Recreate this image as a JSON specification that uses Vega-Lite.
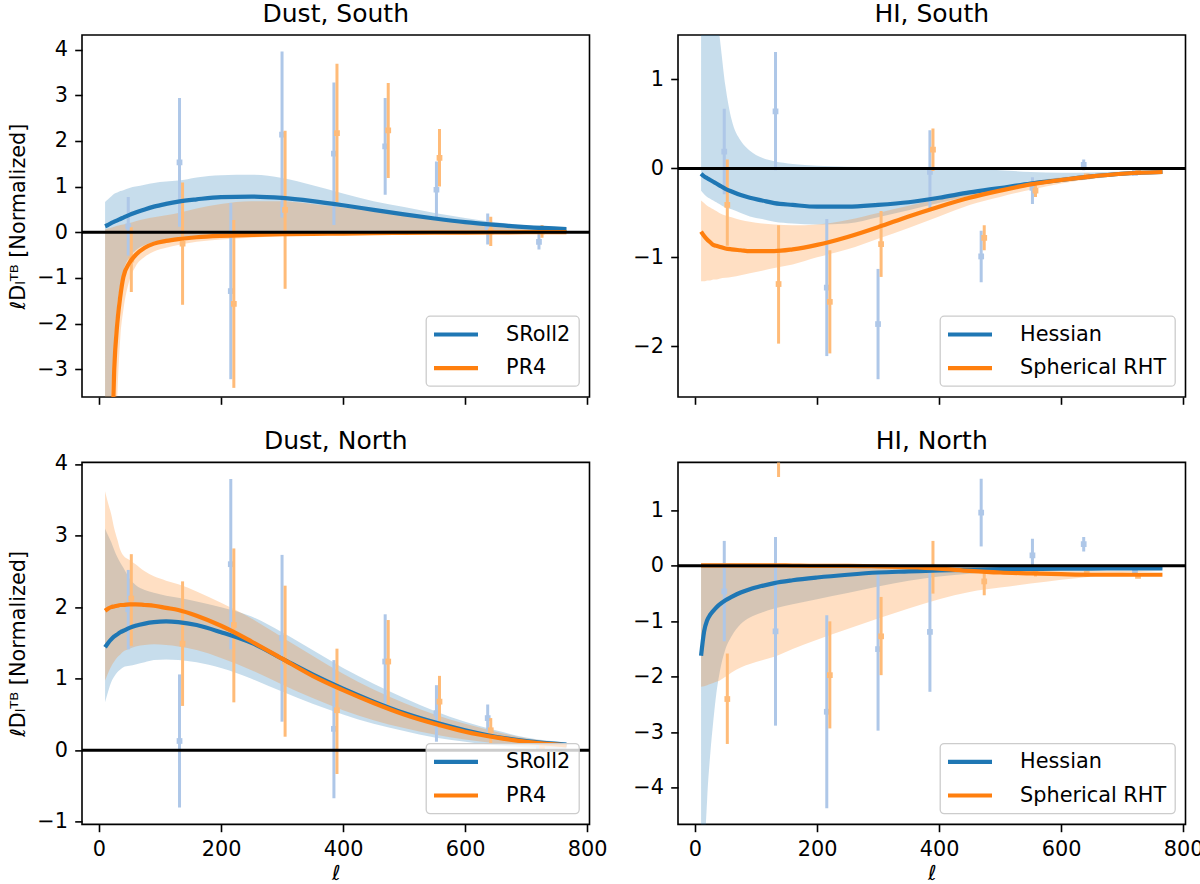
{
  "$schema": "https://vega.github.io/schema/vega-lite/v6.json",
  "background": "white",
  "padding": {"left": 6, "top": 1, "right": 5, "bottom": 5},
  "bounds": "flush",
  "columns": 2,
  "spacing": {"row": 65.4, "column": 88},
  "datasets": {
    "dust_south_fit": [
      {"l":10,"s":"SRoll2","mid":0.13,"lo":-12,"hi":0.66},{"l":15,"s":"SRoll2","mid":0.16,"lo":-7,"hi":0.72},{"l":20,"s":"SRoll2","mid":0.2,"lo":-3.8,"hi":0.78},{"l":25,"s":"SRoll2","mid":0.23,"lo":-2.4,"hi":0.84},{"l":30,"s":"SRoll2","mid":0.26,"lo":-1.6,"hi":0.87},{"l":35,"s":"SRoll2","mid":0.29,"lo":-1.15,"hi":0.9},{"l":40,"s":"SRoll2","mid":0.32,"lo":-0.85,"hi":0.92},{"l":50,"s":"SRoll2","mid":0.38,"lo":-0.55,"hi":0.97},{"l":60,"s":"SRoll2","mid":0.43,"lo":-0.4,"hi":1.0},{"l":75,"s":"SRoll2","mid":0.5,"lo":-0.28,"hi":1.04},{"l":90,"s":"SRoll2","mid":0.56,"lo":-0.21,"hi":1.08},{"l":110,"s":"SRoll2","mid":0.62,"lo":-0.16,"hi":1.11},{"l":130,"s":"SRoll2","mid":0.67,"lo":-0.13,"hi":1.13},{"l":160,"s":"SRoll2","mid":0.72,"lo":-0.09,"hi":1.2},{"l":200,"s":"SRoll2","mid":0.77,"lo":-0.06,"hi":1.25},{"l":250,"s":"SRoll2","mid":0.78,"lo":-0.04,"hi":1.26},{"l":300,"s":"SRoll2","mid":0.75,"lo":-0.03,"hi":1.19},{"l":350,"s":"SRoll2","mid":0.68,"lo":-0.02,"hi":1.03},{"l":400,"s":"SRoll2","mid":0.59,"lo":-0.02,"hi":0.85},{"l":450,"s":"SRoll2","mid":0.49,"lo":-0.01,"hi":0.68},{"l":500,"s":"SRoll2","mid":0.39,"lo":-0.01,"hi":0.55},{"l":550,"s":"SRoll2","mid":0.3,"lo":0,"hi":0.42},{"l":600,"s":"SRoll2","mid":0.22,"lo":0,"hi":0.31},{"l":650,"s":"SRoll2","mid":0.16,"lo":0,"hi":0.22},{"l":700,"s":"SRoll2","mid":0.11,"lo":0,"hi":0.15},{"l":766,"s":"SRoll2","mid":0.07,"lo":0,"hi":0.09},
      {"l":10,"s":"PR4","mid":-30,"lo":-60,"hi":0.06},{"l":15,"s":"PR4","mid":-9,"lo":-20,"hi":0.08},{"l":20,"s":"PR4","mid":-5.3,"lo":-9,"hi":0.1},{"l":25,"s":"PR4","mid":-3.0,"lo":-5.5,"hi":0.12},{"l":30,"s":"PR4","mid":-2.0,"lo":-3.6,"hi":0.14},{"l":35,"s":"PR4","mid":-1.4,"lo":-2.3,"hi":0.16},{"l":40,"s":"PR4","mid":-0.98,"lo":-1.7,"hi":0.17},{"l":50,"s":"PR4","mid":-0.67,"lo":-1.05,"hi":0.2},{"l":60,"s":"PR4","mid":-0.5,"lo":-0.75,"hi":0.24},{"l":75,"s":"PR4","mid":-0.34,"lo":-0.54,"hi":0.29},{"l":90,"s":"PR4","mid":-0.25,"lo":-0.42,"hi":0.33},{"l":110,"s":"PR4","mid":-0.19,"lo":-0.34,"hi":0.37},{"l":130,"s":"PR4","mid":-0.15,"lo":-0.28,"hi":0.42},{"l":160,"s":"PR4","mid":-0.11,"lo":-0.21,"hi":0.52},{"l":200,"s":"PR4","mid":-0.08,"lo":-0.16,"hi":0.62},{"l":250,"s":"PR4","mid":-0.06,"lo":-0.12,"hi":0.68},{"l":300,"s":"PR4","mid":-0.045,"lo":-0.09,"hi":0.68},{"l":350,"s":"PR4","mid":-0.035,"lo":-0.07,"hi":0.62},{"l":400,"s":"PR4","mid":-0.03,"lo":-0.06,"hi":0.54},{"l":450,"s":"PR4","mid":-0.02,"lo":-0.05,"hi":0.47},{"l":500,"s":"PR4","mid":-0.015,"lo":-0.04,"hi":0.39},{"l":550,"s":"PR4","mid":-0.01,"lo":-0.03,"hi":0.31},{"l":600,"s":"PR4","mid":-0.01,"lo":-0.02,"hi":0.24},{"l":650,"s":"PR4","mid":-0.005,"lo":-0.02,"hi":0.17},{"l":700,"s":"PR4","mid":0,"lo":-0.01,"hi":0.12},{"l":766,"s":"PR4","mid":0,"lo":-0.01,"hi":0.08}
    ],
    "dust_south_pts": [
      {"l":48,"s":"SRoll2","value":0.13,"lo":-0.51,"hi":0.77},{"l":132,"s":"SRoll2","value":1.53,"lo":0.12,"hi":2.94},{"l":216,"s":"SRoll2","value":-1.29,"lo":-3.22,"hi":0.64},{"l":300,"s":"SRoll2","value":2.14,"lo":0.32,"hi":3.96},{"l":385,"s":"SRoll2","value":1.72,"lo":0.16,"hi":3.28},{"l":469,"s":"SRoll2","value":1.88,"lo":0.82,"hi":2.94},{"l":553,"s":"SRoll2","value":0.93,"lo":0.31,"hi":1.55},{"l":637,"s":"SRoll2","value":0.07,"lo":-0.27,"hi":0.41},{"l":721,"s":"SRoll2","value":-0.21,"lo":-0.38,"hi":-0.04},
      {"l":53,"s":"PR4","value":-0.6,"lo":-1.31,"hi":0.11},{"l":137,"s":"PR4","value":-0.25,"lo":-1.59,"hi":1.09},{"l":221,"s":"PR4","value":-1.57,"lo":-3.41,"hi":0.27},{"l":305,"s":"PR4","value":0.49,"lo":-1.24,"hi":2.22},{"l":390,"s":"PR4","value":2.17,"lo":0.65,"hi":3.69},{"l":474,"s":"PR4","value":2.23,"lo":1.19,"hi":3.27},{"l":558,"s":"PR4","value":1.63,"lo":1.0,"hi":2.26},{"l":642,"s":"PR4","value":0.02,"lo":-0.3,"hi":0.34},{"l":726,"s":"PR4","value":0.02,"lo":-0.12,"hi":0.16}
    ],
    "hi_south_fit": [
      {"l":10,"s":"Hessian","mid":-0.06,"lo":-0.25,"hi":6},{"l":15,"s":"Hessian","mid":-0.09,"lo":-0.29,"hi":4.5},{"l":20,"s":"Hessian","mid":-0.11,"lo":-0.32,"hi":3.4},{"l":25,"s":"Hessian","mid":-0.13,"lo":-0.34,"hi":2.6},{"l":30,"s":"Hessian","mid":-0.15,"lo":-0.36,"hi":2.1},{"l":35,"s":"Hessian","mid":-0.17,"lo":-0.38,"hi":1.75},{"l":40,"s":"Hessian","mid":-0.19,"lo":-0.4,"hi":1.5},{"l":50,"s":"Hessian","mid":-0.23,"lo":-0.44,"hi":0.92},{"l":60,"s":"Hessian","mid":-0.26,"lo":-0.46,"hi":0.55},{"l":75,"s":"Hessian","mid":-0.3,"lo":-0.5,"hi":0.31},{"l":90,"s":"Hessian","mid":-0.33,"lo":-0.54,"hi":0.2},{"l":110,"s":"Hessian","mid":-0.36,"lo":-0.57,"hi":0.12},{"l":130,"s":"Hessian","mid":-0.39,"lo":-0.6,"hi":0.08},{"l":160,"s":"Hessian","mid":-0.41,"lo":-0.62,"hi":0.05},{"l":200,"s":"Hessian","mid":-0.43,"lo":-0.63,"hi":0.03},{"l":250,"s":"Hessian","mid":-0.43,"lo":-0.62,"hi":0.02},{"l":300,"s":"Hessian","mid":-0.41,"lo":-0.55,"hi":0.015},{"l":350,"s":"Hessian","mid":-0.38,"lo":-0.47,"hi":0.01},{"l":400,"s":"Hessian","mid":-0.33,"lo":-0.39,"hi":0.01},{"l":450,"s":"Hessian","mid":-0.27,"lo":-0.31,"hi":0},{"l":500,"s":"Hessian","mid":-0.22,"lo":-0.25,"hi":-0.02},{"l":550,"s":"Hessian","mid":-0.17,"lo":-0.19,"hi":-0.04},{"l":600,"s":"Hessian","mid":-0.13,"lo":-0.15,"hi":-0.05},{"l":650,"s":"Hessian","mid":-0.09,"lo":-0.11,"hi":-0.045},{"l":700,"s":"Hessian","mid":-0.06,"lo":-0.08,"hi":-0.035},{"l":766,"s":"Hessian","mid":-0.04,"lo":-0.055,"hi":-0.02},
      {"l":10,"s":"Spherical RHT","mid":-0.71,"lo":-1.27,"hi":-0.36},{"l":15,"s":"Spherical RHT","mid":-0.76,"lo":-1.27,"hi":-0.39},{"l":20,"s":"Spherical RHT","mid":-0.8,"lo":-1.26,"hi":-0.42},{"l":25,"s":"Spherical RHT","mid":-0.83,"lo":-1.26,"hi":-0.44},{"l":30,"s":"Spherical RHT","mid":-0.86,"lo":-1.25,"hi":-0.46},{"l":35,"s":"Spherical RHT","mid":-0.87,"lo":-1.25,"hi":-0.48},{"l":40,"s":"Spherical RHT","mid":-0.88,"lo":-1.24,"hi":-0.5},{"l":50,"s":"Spherical RHT","mid":-0.9,"lo":-1.23,"hi":-0.53},{"l":60,"s":"Spherical RHT","mid":-0.91,"lo":-1.22,"hi":-0.55},{"l":75,"s":"Spherical RHT","mid":-0.92,"lo":-1.2,"hi":-0.58},{"l":90,"s":"Spherical RHT","mid":-0.93,"lo":-1.18,"hi":-0.6},{"l":110,"s":"Spherical RHT","mid":-0.93,"lo":-1.15,"hi":-0.62},{"l":130,"s":"Spherical RHT","mid":-0.93,"lo":-1.12,"hi":-0.63},{"l":160,"s":"Spherical RHT","mid":-0.91,"lo":-1.08,"hi":-0.64},{"l":200,"s":"Spherical RHT","mid":-0.86,"lo":-1.0,"hi":-0.63},{"l":250,"s":"Spherical RHT","mid":-0.77,"lo":-0.91,"hi":-0.58},{"l":300,"s":"Spherical RHT","mid":-0.66,"lo":-0.79,"hi":-0.5},{"l":350,"s":"Spherical RHT","mid":-0.54,"lo":-0.67,"hi":-0.42},{"l":400,"s":"Spherical RHT","mid":-0.43,"lo":-0.54,"hi":-0.34},{"l":450,"s":"Spherical RHT","mid":-0.33,"lo":-0.41,"hi":-0.27},{"l":500,"s":"Spherical RHT","mid":-0.25,"lo":-0.32,"hi":-0.21},{"l":550,"s":"Spherical RHT","mid":-0.18,"lo":-0.24,"hi":-0.15},{"l":600,"s":"Spherical RHT","mid":-0.13,"lo":-0.17,"hi":-0.1},{"l":650,"s":"Spherical RHT","mid":-0.09,"lo":-0.12,"hi":-0.07},{"l":700,"s":"Spherical RHT","mid":-0.06,"lo":-0.08,"hi":-0.045},{"l":766,"s":"Spherical RHT","mid":-0.04,"lo":-0.05,"hi":-0.03}
    ],
    "hi_south_pts": [
      {"l":48,"s":"Hessian","value":0.19,"lo":-0.29,"hi":0.67},{"l":132,"s":"Hessian","value":0.64,"lo":-0.02,"hi":1.31},{"l":216,"s":"Hessian","value":-1.34,"lo":-2.11,"hi":-0.57},{"l":300,"s":"Hessian","value":-1.75,"lo":-2.37,"hi":-1.13},{"l":385,"s":"Hessian","value":-0.04,"lo":-0.47,"hi":0.43},{"l":469,"s":"Hessian","value":-0.99,"lo":-1.28,"hi":-0.7},{"l":553,"s":"Hessian","value":-0.22,"lo":-0.4,"hi":-0.1},{"l":637,"s":"Hessian","value":0.04,"lo":-0.02,"hi":0.1},{"l":721,"s":"Hessian","value":-0.05,"lo":-0.07,"hi":-0.03},
      {"l":53,"s":"Spherical RHT","value":-0.41,"lo":-0.87,"hi":0.1},{"l":137,"s":"Spherical RHT","value":-1.3,"lo":-1.97,"hi":-0.64},{"l":221,"s":"Spherical RHT","value":-1.5,"lo":-2.08,"hi":-0.92},{"l":305,"s":"Spherical RHT","value":-0.85,"lo":-1.22,"hi":-0.48},{"l":390,"s":"Spherical RHT","value":0.21,"lo":-0.03,"hi":0.45},{"l":474,"s":"Spherical RHT","value":-0.78,"lo":-0.92,"hi":-0.64},{"l":558,"s":"Spherical RHT","value":-0.25,"lo":-0.32,"hi":-0.18},{"l":642,"s":"Spherical RHT","value":-0.09,"lo":-0.11,"hi":-0.07},{"l":726,"s":"Spherical RHT","value":-0.04,"lo":-0.05,"hi":-0.03}
    ],
    "dust_north_fit": [
      {"l":10,"s":"SRoll2","mid":1.44,"lo":0.67,"hi":3.1},{"l":15,"s":"SRoll2","mid":1.5,"lo":0.82,"hi":3.0},{"l":20,"s":"SRoll2","mid":1.55,"lo":0.95,"hi":2.91},{"l":25,"s":"SRoll2","mid":1.59,"lo":1.03,"hi":2.8},{"l":30,"s":"SRoll2","mid":1.62,"lo":1.09,"hi":2.7},{"l":35,"s":"SRoll2","mid":1.65,"lo":1.13,"hi":2.62},{"l":40,"s":"SRoll2","mid":1.67,"lo":1.16,"hi":2.55},{"l":50,"s":"SRoll2","mid":1.71,"lo":1.18,"hi":2.4},{"l":60,"s":"SRoll2","mid":1.74,"lo":1.2,"hi":2.31},{"l":75,"s":"SRoll2","mid":1.77,"lo":1.23,"hi":2.24},{"l":90,"s":"SRoll2","mid":1.79,"lo":1.26,"hi":2.2},{"l":110,"s":"SRoll2","mid":1.8,"lo":1.27,"hi":2.16},{"l":130,"s":"SRoll2","mid":1.79,"lo":1.26,"hi":2.13},{"l":160,"s":"SRoll2","mid":1.75,"lo":1.23,"hi":2.08},{"l":200,"s":"SRoll2","mid":1.65,"lo":1.15,"hi":2.0},{"l":250,"s":"SRoll2","mid":1.5,"lo":1.0,"hi":1.87},{"l":300,"s":"SRoll2","mid":1.28,"lo":0.82,"hi":1.65},{"l":350,"s":"SRoll2","mid":1.06,"lo":0.65,"hi":1.4},{"l":400,"s":"SRoll2","mid":0.86,"lo":0.5,"hi":1.15},{"l":450,"s":"SRoll2","mid":0.68,"lo":0.37,"hi":0.93},{"l":500,"s":"SRoll2","mid":0.52,"lo":0.27,"hi":0.73},{"l":550,"s":"SRoll2","mid":0.39,"lo":0.18,"hi":0.55},{"l":600,"s":"SRoll2","mid":0.28,"lo":0.12,"hi":0.4},{"l":650,"s":"SRoll2","mid":0.19,"lo":0.07,"hi":0.28},{"l":700,"s":"SRoll2","mid":0.13,"lo":0.04,"hi":0.18},{"l":766,"s":"SRoll2","mid":0.08,"lo":0.02,"hi":0.11},
      {"l":10,"s":"PR4","mid":1.95,"lo":0.97,"hi":3.62},{"l":15,"s":"PR4","mid":1.98,"lo":1.08,"hi":3.45},{"l":20,"s":"PR4","mid":2.0,"lo":1.17,"hi":3.3},{"l":25,"s":"PR4","mid":2.01,"lo":1.24,"hi":3.1},{"l":30,"s":"PR4","mid":2.02,"lo":1.3,"hi":2.95},{"l":35,"s":"PR4","mid":2.03,"lo":1.34,"hi":2.8},{"l":40,"s":"PR4","mid":2.03,"lo":1.38,"hi":2.72},{"l":50,"s":"PR4","mid":2.04,"lo":1.42,"hi":2.66},{"l":60,"s":"PR4","mid":2.04,"lo":1.45,"hi":2.6},{"l":75,"s":"PR4","mid":2.03,"lo":1.47,"hi":2.5},{"l":90,"s":"PR4","mid":2.02,"lo":1.48,"hi":2.43},{"l":110,"s":"PR4","mid":1.99,"lo":1.47,"hi":2.37},{"l":130,"s":"PR4","mid":1.96,"lo":1.45,"hi":2.32},{"l":160,"s":"PR4","mid":1.88,"lo":1.4,"hi":2.22},{"l":200,"s":"PR4","mid":1.74,"lo":1.29,"hi":2.06},{"l":250,"s":"PR4","mid":1.52,"lo":1.12,"hi":1.84},{"l":300,"s":"PR4","mid":1.28,"lo":0.92,"hi":1.58},{"l":350,"s":"PR4","mid":1.04,"lo":0.73,"hi":1.32},{"l":400,"s":"PR4","mid":0.84,"lo":0.56,"hi":1.07},{"l":450,"s":"PR4","mid":0.66,"lo":0.42,"hi":0.85},{"l":500,"s":"PR4","mid":0.5,"lo":0.31,"hi":0.66},{"l":550,"s":"PR4","mid":0.37,"lo":0.22,"hi":0.5},{"l":600,"s":"PR4","mid":0.26,"lo":0.15,"hi":0.37},{"l":650,"s":"PR4","mid":0.18,"lo":0.1,"hi":0.26},{"l":700,"s":"PR4","mid":0.12,"lo":0.06,"hi":0.17},{"l":766,"s":"PR4","mid":0.07,"lo":0.04,"hi":0.1}
    ],
    "dust_north_pts": [
      {"l":48,"s":"SRoll2","value":1.97,"lo":1.41,"hi":2.52},{"l":132,"s":"SRoll2","value":0.13,"lo":-0.8,"hi":1.06},{"l":216,"s":"SRoll2","value":2.6,"lo":1.41,"hi":3.79},{"l":300,"s":"SRoll2","value":1.57,"lo":0.4,"hi":2.73},{"l":385,"s":"SRoll2","value":0.3,"lo":-0.67,"hi":1.26},{"l":469,"s":"SRoll2","value":1.24,"lo":0.59,"hi":1.9},{"l":553,"s":"SRoll2","value":0.52,"lo":0.12,"hi":0.91},{"l":637,"s":"SRoll2","value":0.45,"lo":0.26,"hi":0.64},{"l":721,"s":"SRoll2","value":0.06,"lo":0.01,"hi":0.11},
      {"l":53,"s":"PR4","value":2.12,"lo":1.46,"hi":2.74},{"l":137,"s":"PR4","value":1.49,"lo":0.62,"hi":2.36},{"l":221,"s":"PR4","value":1.75,"lo":0.67,"hi":2.82},{"l":305,"s":"PR4","value":1.24,"lo":0.19,"hi":2.3},{"l":390,"s":"PR4","value":0.56,"lo":-0.33,"hi":1.42},{"l":474,"s":"PR4","value":1.24,"lo":0.64,"hi":1.82},{"l":558,"s":"PR4","value":0.68,"lo":0.31,"hi":1.04},{"l":642,"s":"PR4","value":0.28,"lo":0.1,"hi":0.45},{"l":726,"s":"PR4","value":0.05,"lo":0.0,"hi":0.1}
    ],
    "hi_north_fit": [
      {"l":10,"s":"Hessian","mid":-1.62,"lo":-9,"hi":0.05},{"l":15,"s":"Hessian","mid":-1.18,"lo":-5.6,"hi":0.05},{"l":20,"s":"Hessian","mid":-0.98,"lo":-4.2,"hi":0.05},{"l":25,"s":"Hessian","mid":-0.88,"lo":-3.4,"hi":0.05},{"l":30,"s":"Hessian","mid":-0.81,"lo":-2.8,"hi":0.05},{"l":35,"s":"Hessian","mid":-0.75,"lo":-2.3,"hi":0.05},{"l":40,"s":"Hessian","mid":-0.7,"lo":-1.95,"hi":0.05},{"l":50,"s":"Hessian","mid":-0.62,"lo":-1.5,"hi":0.05},{"l":60,"s":"Hessian","mid":-0.56,"lo":-1.27,"hi":0.05},{"l":75,"s":"Hessian","mid":-0.48,"lo":-1.05,"hi":0.045},{"l":90,"s":"Hessian","mid":-0.42,"lo":-0.93,"hi":0.045},{"l":110,"s":"Hessian","mid":-0.36,"lo":-0.84,"hi":0.04},{"l":130,"s":"Hessian","mid":-0.31,"lo":-0.77,"hi":0.04},{"l":160,"s":"Hessian","mid":-0.26,"lo":-0.69,"hi":0.03},{"l":200,"s":"Hessian","mid":-0.21,"lo":-0.6,"hi":0.02},{"l":250,"s":"Hessian","mid":-0.16,"lo":-0.49,"hi":0.01},{"l":300,"s":"Hessian","mid":-0.12,"lo":-0.37,"hi":0},{"l":350,"s":"Hessian","mid":-0.1,"lo":-0.27,"hi":-0.01},{"l":400,"s":"Hessian","mid":-0.08,"lo":-0.19,"hi":-0.02},{"l":450,"s":"Hessian","mid":-0.07,"lo":-0.14,"hi":-0.02},{"l":500,"s":"Hessian","mid":-0.06,"lo":-0.1,"hi":-0.02},{"l":550,"s":"Hessian","mid":-0.055,"lo":-0.08,"hi":-0.02},{"l":600,"s":"Hessian","mid":-0.05,"lo":-0.07,"hi":-0.02},{"l":650,"s":"Hessian","mid":-0.05,"lo":-0.065,"hi":-0.02},{"l":700,"s":"Hessian","mid":-0.045,"lo":-0.06,"hi":-0.02},{"l":766,"s":"Hessian","mid":-0.045,"lo":-0.06,"hi":-0.02},
      {"l":10,"s":"Spherical RHT","mid":0.01,"lo":-2.18,"hi":0.03},{"l":15,"s":"Spherical RHT","mid":0.01,"lo":-2.17,"hi":0.03},{"l":20,"s":"Spherical RHT","mid":0.01,"lo":-2.15,"hi":0.03},{"l":25,"s":"Spherical RHT","mid":0.01,"lo":-2.13,"hi":0.03},{"l":30,"s":"Spherical RHT","mid":0.01,"lo":-2.11,"hi":0.03},{"l":35,"s":"Spherical RHT","mid":0.01,"lo":-2.09,"hi":0.03},{"l":40,"s":"Spherical RHT","mid":0.01,"lo":-2.07,"hi":0.03},{"l":50,"s":"Spherical RHT","mid":0.01,"lo":-2.0,"hi":0.03},{"l":60,"s":"Spherical RHT","mid":0.01,"lo":-1.92,"hi":0.03},{"l":75,"s":"Spherical RHT","mid":0.01,"lo":-1.83,"hi":0.03},{"l":90,"s":"Spherical RHT","mid":0.01,"lo":-1.77,"hi":0.03},{"l":110,"s":"Spherical RHT","mid":0.01,"lo":-1.7,"hi":0.03},{"l":130,"s":"Spherical RHT","mid":0.01,"lo":-1.64,"hi":0.03},{"l":160,"s":"Spherical RHT","mid":0.005,"lo":-1.5,"hi":0.03},{"l":200,"s":"Spherical RHT","mid":0,"lo":-1.33,"hi":0.03},{"l":250,"s":"Spherical RHT","mid":0,"lo":-1.14,"hi":0.025},{"l":300,"s":"Spherical RHT","mid":-0.01,"lo":-0.95,"hi":0.02},{"l":350,"s":"Spherical RHT","mid":-0.025,"lo":-0.77,"hi":0.01},{"l":400,"s":"Spherical RHT","mid":-0.05,"lo":-0.6,"hi":0},{"l":450,"s":"Spherical RHT","mid":-0.09,"lo":-0.47,"hi":-0.02},{"l":500,"s":"Spherical RHT","mid":-0.12,"lo":-0.39,"hi":-0.04},{"l":550,"s":"Spherical RHT","mid":-0.135,"lo":-0.32,"hi":-0.06},{"l":600,"s":"Spherical RHT","mid":-0.15,"lo":-0.25,"hi":-0.08},{"l":650,"s":"Spherical RHT","mid":-0.16,"lo":-0.19,"hi":-0.09},{"l":700,"s":"Spherical RHT","mid":-0.16,"lo":-0.13,"hi":-0.09},{"l":766,"s":"Spherical RHT","mid":-0.16,"lo":-0.09,"hi":-0.09}
    ],
    "hi_north_pts": [
      {"l":48,"s":"Hessian","value":-0.46,"lo":-1.36,"hi":0.45},{"l":132,"s":"Hessian","value":-1.18,"lo":-2.88,"hi":0.52},{"l":216,"s":"Hessian","value":-2.63,"lo":-4.37,"hi":-0.89},{"l":300,"s":"Hessian","value":-1.5,"lo":-2.97,"hi":-0.1},{"l":385,"s":"Hessian","value":-1.19,"lo":-2.27,"hi":-0.08},{"l":469,"s":"Hessian","value":0.96,"lo":0.35,"hi":1.57},{"l":553,"s":"Hessian","value":0.19,"lo":-0.1,"hi":0.49},{"l":637,"s":"Hessian","value":0.39,"lo":0.26,"hi":0.52},{"l":721,"s":"Hessian","value":-0.08,"lo":-0.12,"hi":-0.04},
      {"l":53,"s":"Spherical RHT","value":-2.4,"lo":-3.21,"hi":-1.58},{"l":137,"s":"Spherical RHT","value":2.9,"lo":1.6,"hi":4.2},{"l":221,"s":"Spherical RHT","value":-1.97,"lo":-2.93,"hi":-1.0},{"l":305,"s":"Spherical RHT","value":-1.27,"lo":-1.97,"hi":-0.56},{"l":390,"s":"Spherical RHT","value":-0.03,"lo":-0.5,"hi":0.45},{"l":474,"s":"Spherical RHT","value":-0.28,"lo":-0.53,"hi":-0.04},{"l":558,"s":"Spherical RHT","value":-0.11,"lo":-0.19,"hi":-0.03},{"l":642,"s":"Spherical RHT","value":-0.14,"lo":-0.19,"hi":-0.09},{"l":726,"s":"Spherical RHT","value":-0.18,"lo":-0.22,"hi":-0.14}
    ]
  },
  "concat": [
    {
      "width": 507.5, "height": 362,
      "title": "Dust, South",
      "layer": [
        {"data": {"name": "dust_south_fit"}, "transform": [{"filter": "datum.s === 'SRoll2'"}],
         "mark": {"type": "area", "color": "#1f77b4", "opacity": 0.25, "clip": true, "interpolate": "monotone"},
         "encoding": {"x": {"field": "l", "type": "quantitative", "scale": {"domain": [-27.8, 803.8], "nice": false, "zero": false}, "axis": {"values": [0, 200, 400, 600, 800], "labels": false, "title": null}},
                      "y": {"field": "lo", "type": "quantitative", "scale": {"domain": [-3.61, 4.32], "nice": false, "zero": false}, "axis": {"values": [-3, -2, -1, 0, 1, 2, 3, 4], "title": "ℓDₗᵀᴮ [Normalized]"}},
                      "y2": {"field": "hi"}}},
        {"data": {"name": "dust_south_fit"}, "transform": [{"filter": "datum.s === 'PR4'"}],
         "mark": {"type": "area", "color": "#ff7f0e", "opacity": 0.25, "clip": true, "interpolate": "monotone"},
         "encoding": {"x": {"field": "l", "type": "quantitative"}, "y": {"field": "lo", "type": "quantitative"}, "y2": {"field": "hi"}}},
        {"data": {"name": "dust_south_pts"}, "transform": [{"filter": "datum.s === 'SRoll2'"}],
         "mark": {"type": "rule", "color": "#aec7e8", "strokeWidth": 3, "clip": true},
         "encoding": {"x": {"field": "l", "type": "quantitative"}, "y": {"field": "lo", "type": "quantitative"}, "y2": {"field": "hi"}}},
        {"data": {"name": "dust_south_pts"}, "transform": [{"filter": "datum.s === 'SRoll2'"}],
         "mark": {"type": "point", "shape": "square", "filled": true, "color": "#aec7e8", "opacity": 1, "size": 33, "clip": true},
         "encoding": {"x": {"field": "l", "type": "quantitative"}, "y": {"field": "value", "type": "quantitative"}}},
        {"data": {"name": "dust_south_pts"}, "transform": [{"filter": "datum.s === 'PR4'"}],
         "mark": {"type": "rule", "color": "#ffbb78", "strokeWidth": 3, "clip": true},
         "encoding": {"x": {"field": "l", "type": "quantitative"}, "y": {"field": "lo", "type": "quantitative"}, "y2": {"field": "hi"}}},
        {"data": {"name": "dust_south_pts"}, "transform": [{"filter": "datum.s === 'PR4'"}],
         "mark": {"type": "point", "shape": "square", "filled": true, "color": "#ffbb78", "opacity": 1, "size": 33, "clip": true},
         "encoding": {"x": {"field": "l", "type": "quantitative"}, "y": {"field": "value", "type": "quantitative"}}},
        {"data": {"name": "dust_south_fit"},
         "mark": {"type": "line", "strokeWidth": 4.2, "clip": true, "interpolate": "monotone"},
         "encoding": {"x": {"field": "l", "type": "quantitative"}, "y": {"field": "mid", "type": "quantitative"},
                      "color": {"field": "s", "type": "nominal", "scale": {"domain": ["SRoll2", "PR4"], "range": ["#1f77b4", "#ff7f0e"]},
                                "legend": {"title": null, "orient": "bottom-right", "offset": 11, "padding": 8, "fillColor": "rgba(255,255,255,0.8)", "strokeColor": "#cccccc", "cornerRadius": 4, "labelFont": "DejaVu Sans", "labelFontSize": 20.8, "labelColor": "#000000", "symbolType": "M-2.75,0H2.75", "symbolSize": 256, "symbolStrokeWidth": 4.2, "symbolOffset": 11.5, "labelOffset": 39.6, "rowPadding": 11.6, "labelLimit": 400}}}},
        {"data": {"values": [{}]}, "mark": {"type": "rule", "color": "#000000", "strokeWidth": 3}, "encoding": {"y": {"datum": 0}}}
      ]
    },
    {
      "width": 507.5, "height": 362,
      "title": "HI, South",
      "layer": [
        {"data": {"name": "hi_south_fit"}, "transform": [{"filter": "datum.s === 'Hessian'"}],
         "mark": {"type": "area", "color": "#1f77b4", "opacity": 0.25, "clip": true, "interpolate": "monotone"},
         "encoding": {"x": {"field": "l", "type": "quantitative", "scale": {"domain": [-27.8, 803.8], "nice": false, "zero": false}, "axis": {"values": [0, 200, 400, 600, 800], "labels": false, "title": null}},
                      "y": {"field": "lo", "type": "quantitative", "scale": {"domain": [-2.57, 1.5], "nice": false, "zero": false}, "axis": {"values": [-2, -1, 0, 1], "title": null}},
                      "y2": {"field": "hi"}}},
        {"data": {"name": "hi_south_fit"}, "transform": [{"filter": "datum.s === 'Spherical RHT'"}],
         "mark": {"type": "area", "color": "#ff7f0e", "opacity": 0.25, "clip": true, "interpolate": "monotone"},
         "encoding": {"x": {"field": "l", "type": "quantitative"}, "y": {"field": "lo", "type": "quantitative"}, "y2": {"field": "hi"}}},
        {"data": {"name": "hi_south_pts"}, "transform": [{"filter": "datum.s === 'Hessian'"}],
         "mark": {"type": "rule", "color": "#aec7e8", "strokeWidth": 3, "clip": true},
         "encoding": {"x": {"field": "l", "type": "quantitative"}, "y": {"field": "lo", "type": "quantitative"}, "y2": {"field": "hi"}}},
        {"data": {"name": "hi_south_pts"}, "transform": [{"filter": "datum.s === 'Hessian'"}],
         "mark": {"type": "point", "shape": "square", "filled": true, "color": "#aec7e8", "opacity": 1, "size": 33, "clip": true},
         "encoding": {"x": {"field": "l", "type": "quantitative"}, "y": {"field": "value", "type": "quantitative"}}},
        {"data": {"name": "hi_south_pts"}, "transform": [{"filter": "datum.s === 'Spherical RHT'"}],
         "mark": {"type": "rule", "color": "#ffbb78", "strokeWidth": 3, "clip": true},
         "encoding": {"x": {"field": "l", "type": "quantitative"}, "y": {"field": "lo", "type": "quantitative"}, "y2": {"field": "hi"}}},
        {"data": {"name": "hi_south_pts"}, "transform": [{"filter": "datum.s === 'Spherical RHT'"}],
         "mark": {"type": "point", "shape": "square", "filled": true, "color": "#ffbb78", "opacity": 1, "size": 33, "clip": true},
         "encoding": {"x": {"field": "l", "type": "quantitative"}, "y": {"field": "value", "type": "quantitative"}}},
        {"data": {"name": "hi_south_fit"},
         "mark": {"type": "line", "strokeWidth": 4.2, "clip": true, "interpolate": "monotone"},
         "encoding": {"x": {"field": "l", "type": "quantitative"}, "y": {"field": "mid", "type": "quantitative"},
                      "color": {"field": "s", "type": "nominal", "scale": {"domain": ["Hessian", "Spherical RHT"], "range": ["#1f77b4", "#ff7f0e"]},
                                "legend": {"title": null, "orient": "bottom-right", "offset": 11, "padding": 8, "fillColor": "rgba(255,255,255,0.8)", "strokeColor": "#cccccc", "cornerRadius": 4, "labelFont": "DejaVu Sans", "labelFontSize": 20.8, "labelColor": "#000000", "symbolType": "M-2.75,0H2.75", "symbolSize": 256, "symbolStrokeWidth": 4.2, "symbolOffset": 11.5, "labelOffset": 39.6, "rowPadding": 11.6, "labelLimit": 400}}}},
        {"data": {"values": [{}]}, "mark": {"type": "rule", "color": "#000000", "strokeWidth": 3}, "encoding": {"y": {"datum": 0}}}
      ]
    },
    {
      "width": 507.5, "height": 362,
      "title": {"text": "Dust, North", "offset": -0.8},
      "layer": [
        {"data": {"name": "dust_north_fit"}, "transform": [{"filter": "datum.s === 'SRoll2'"}],
         "mark": {"type": "area", "color": "#1f77b4", "opacity": 0.25, "clip": true, "interpolate": "monotone"},
         "encoding": {"x": {"field": "l", "type": "quantitative", "scale": {"domain": [-27.8, 803.8], "nice": false, "zero": false}, "axis": {"values": [0, 200, 400, 600, 800], "title": "ℓ"}},
                      "y": {"field": "lo", "type": "quantitative", "scale": {"domain": [-1.035, 4.022], "nice": false, "zero": false}, "axis": {"values": [-1, 0, 1, 2, 3, 4], "title": "ℓDₗᵀᴮ [Normalized]"}},
                      "y2": {"field": "hi"}}},
        {"data": {"name": "dust_north_fit"}, "transform": [{"filter": "datum.s === 'PR4'"}],
         "mark": {"type": "area", "color": "#ff7f0e", "opacity": 0.25, "clip": true, "interpolate": "monotone"},
         "encoding": {"x": {"field": "l", "type": "quantitative"}, "y": {"field": "lo", "type": "quantitative"}, "y2": {"field": "hi"}}},
        {"data": {"name": "dust_north_pts"}, "transform": [{"filter": "datum.s === 'SRoll2'"}],
         "mark": {"type": "rule", "color": "#aec7e8", "strokeWidth": 3, "clip": true},
         "encoding": {"x": {"field": "l", "type": "quantitative"}, "y": {"field": "lo", "type": "quantitative"}, "y2": {"field": "hi"}}},
        {"data": {"name": "dust_north_pts"}, "transform": [{"filter": "datum.s === 'SRoll2'"}],
         "mark": {"type": "point", "shape": "square", "filled": true, "color": "#aec7e8", "opacity": 1, "size": 33, "clip": true},
         "encoding": {"x": {"field": "l", "type": "quantitative"}, "y": {"field": "value", "type": "quantitative"}}},
        {"data": {"name": "dust_north_pts"}, "transform": [{"filter": "datum.s === 'PR4'"}],
         "mark": {"type": "rule", "color": "#ffbb78", "strokeWidth": 3, "clip": true},
         "encoding": {"x": {"field": "l", "type": "quantitative"}, "y": {"field": "lo", "type": "quantitative"}, "y2": {"field": "hi"}}},
        {"data": {"name": "dust_north_pts"}, "transform": [{"filter": "datum.s === 'PR4'"}],
         "mark": {"type": "point", "shape": "square", "filled": true, "color": "#ffbb78", "opacity": 1, "size": 33, "clip": true},
         "encoding": {"x": {"field": "l", "type": "quantitative"}, "y": {"field": "value", "type": "quantitative"}}},
        {"data": {"name": "dust_north_fit"},
         "mark": {"type": "line", "strokeWidth": 4.2, "clip": true, "interpolate": "monotone"},
         "encoding": {"x": {"field": "l", "type": "quantitative"}, "y": {"field": "mid", "type": "quantitative"},
                      "color": {"field": "s", "type": "nominal", "scale": {"domain": ["SRoll2", "PR4"], "range": ["#1f77b4", "#ff7f0e"]},
                                "legend": {"title": null, "orient": "bottom-right", "offset": 11, "padding": 8, "fillColor": "rgba(255,255,255,0.8)", "strokeColor": "#cccccc", "cornerRadius": 4, "labelFont": "DejaVu Sans", "labelFontSize": 20.8, "labelColor": "#000000", "symbolType": "M-2.75,0H2.75", "symbolSize": 256, "symbolStrokeWidth": 4.2, "symbolOffset": 11.5, "labelOffset": 39.6, "rowPadding": 11.6, "labelLimit": 400}}}},
        {"data": {"values": [{}]}, "mark": {"type": "rule", "color": "#000000", "strokeWidth": 3}, "encoding": {"y": {"datum": 0}}}
      ]
    },
    {
      "width": 507.5, "height": 362,
      "title": "HI, North",
      "layer": [
        {"data": {"name": "hi_north_fit"}, "transform": [{"filter": "datum.s === 'Hessian'"}],
         "mark": {"type": "area", "color": "#1f77b4", "opacity": 0.25, "clip": true, "interpolate": "monotone"},
         "encoding": {"x": {"field": "l", "type": "quantitative", "scale": {"domain": [-27.8, 803.8], "nice": false, "zero": false}, "axis": {"values": [0, 200, 400, 600, 800], "title": "ℓ"}},
                      "y": {"field": "lo", "type": "quantitative", "scale": {"domain": [-4.66, 1.865], "nice": false, "zero": false}, "axis": {"values": [-4, -3, -2, -1, 0, 1], "title": null}},
                      "y2": {"field": "hi"}}},
        {"data": {"name": "hi_north_fit"}, "transform": [{"filter": "datum.s === 'Spherical RHT'"}],
         "mark": {"type": "area", "color": "#ff7f0e", "opacity": 0.25, "clip": true, "interpolate": "monotone"},
         "encoding": {"x": {"field": "l", "type": "quantitative"}, "y": {"field": "lo", "type": "quantitative"}, "y2": {"field": "hi"}}},
        {"data": {"name": "hi_north_pts"}, "transform": [{"filter": "datum.s === 'Hessian'"}],
         "mark": {"type": "rule", "color": "#aec7e8", "strokeWidth": 3, "clip": true},
         "encoding": {"x": {"field": "l", "type": "quantitative"}, "y": {"field": "lo", "type": "quantitative"}, "y2": {"field": "hi"}}},
        {"data": {"name": "hi_north_pts"}, "transform": [{"filter": "datum.s === 'Hessian'"}],
         "mark": {"type": "point", "shape": "square", "filled": true, "color": "#aec7e8", "opacity": 1, "size": 33, "clip": true},
         "encoding": {"x": {"field": "l", "type": "quantitative"}, "y": {"field": "value", "type": "quantitative"}}},
        {"data": {"name": "hi_north_pts"}, "transform": [{"filter": "datum.s === 'Spherical RHT'"}],
         "mark": {"type": "rule", "color": "#ffbb78", "strokeWidth": 3, "clip": true},
         "encoding": {"x": {"field": "l", "type": "quantitative"}, "y": {"field": "lo", "type": "quantitative"}, "y2": {"field": "hi"}}},
        {"data": {"name": "hi_north_pts"}, "transform": [{"filter": "datum.s === 'Spherical RHT'"}],
         "mark": {"type": "point", "shape": "square", "filled": true, "color": "#ffbb78", "opacity": 1, "size": 33, "clip": true},
         "encoding": {"x": {"field": "l", "type": "quantitative"}, "y": {"field": "value", "type": "quantitative"}}},
        {"data": {"name": "hi_north_fit"},
         "mark": {"type": "line", "strokeWidth": 4.2, "clip": true, "interpolate": "monotone"},
         "encoding": {"x": {"field": "l", "type": "quantitative"}, "y": {"field": "mid", "type": "quantitative"},
                      "color": {"field": "s", "type": "nominal", "scale": {"domain": ["Hessian", "Spherical RHT"], "range": ["#1f77b4", "#ff7f0e"]},
                                "legend": {"title": null, "orient": "bottom-right", "offset": 11, "padding": 8, "fillColor": "rgba(255,255,255,0.8)", "strokeColor": "#cccccc", "cornerRadius": 4, "labelFont": "DejaVu Sans", "labelFontSize": 20.8, "labelColor": "#000000", "symbolType": "M-2.75,0H2.75", "symbolSize": 256, "symbolStrokeWidth": 4.2, "symbolOffset": 11.5, "labelOffset": 39.6, "rowPadding": 11.6, "labelLimit": 400}}}},
        {"data": {"values": [{}]}, "mark": {"type": "rule", "color": "#000000", "strokeWidth": 3}, "encoding": {"y": {"datum": 0}}}
      ]
    }
  ],
  "resolve": {"scale": {"x": "independent", "y": "independent", "color": "independent"}, "legend": {"color": "independent"}},
  "config": {
    "font": "DejaVu Sans",
    "view": {"stroke": "#000000", "strokeWidth": 1.6},
    "legend": {"strokeWidth": 1.3},
    "axis": {"grid": false, "domain": false, "ticks": true, "tickColor": "#000000", "tickSize": 7.3, "tickWidth": 1.6, "format": "d",
             "labelFont": "DejaVu Sans", "labelFontSize": 20.8, "labelColor": "#000000", "labelPadding": 7.3, "labelFlush": false, "labelOverlap": false,
             "titleFont": "DejaVu Sans", "titleFontSize": 20.8, "titleFontWeight": "normal", "titleColor": "#000000", "titlePadding": 8.5},
    "axisX": {"titleFontStyle": "italic", "titlePadding": 5},
    "title": {"font": "DejaVu Sans", "fontSize": 25, "fontWeight": "normal", "color": "#000000", "offset": 8, "anchor": "middle"}
  }
}
